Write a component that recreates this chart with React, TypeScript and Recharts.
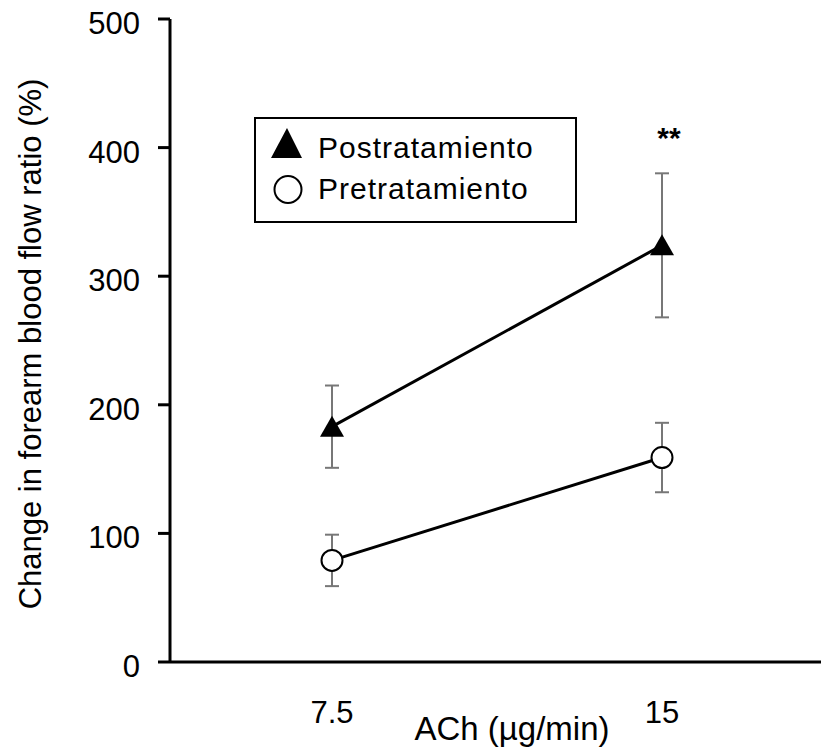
import React from "react";
import {
  ComposedChart,
  Line,
  XAxis,
  YAxis,
  ErrorBar,
  ReferenceDot,
} from "recharts";

const doses = ["7.5", "15"];
const postMean = [183, 324];
const postErr = [32, 56];
const preMean = [79, 159];
const preErr = [20, 27];
const yTicks = [0, 100, 200, 300, 400, 500];
const sigMark = { dose: "15", level: 408, text: "**" };
const seriesNames = ["Postratamiento", "Pretratamiento"];

const data = doses.map((d, i) => ({
  dose: d,
  post: postMean[i],
  postErr: postErr[i],
  pre: preMean[i],
  preErr: preErr[i],
}));

const FONT = "'Liberation Sans', Arial, Helvetica, sans-serif";

const Triangle = (props: any) => {
  const { cx, cy } = props;
  if (cx == null || cy == null) return null;
  return (
    <polygon
      points={`${cx},${cy - 11} ${cx - 12},${cy + 10} ${cx + 12},${cy + 10}`}
      fill="#000"
    />
  );
};

const Circle = (props: any) => {
  const { cx, cy } = props;
  if (cx == null || cy == null) return null;
  return <circle cx={cx} cy={cy} r={10.5} fill="#fff" stroke="#000" strokeWidth={2} />;
};

// legend drawn over the chart, like the boxed key in the figure
const LegendBox = () => (
  <div
    style={{
      position: "absolute",
      left: 254,
      top: 117,
      width: 319,
      height: 102,
      border: "2px solid #000",
      background: "#fff",
      fontFamily: FONT,
      fontSize: 30,
      letterSpacing: 1,
      color: "#000",
    }}
  >
    <svg width={60} height={100} style={{ position: "absolute", left: 0, top: 0 }}>
      <polygon points="31,9 15,39 46,39" fill="#000" />
      <circle cx={32} cy={70.5} r={13.5} fill="#fff" stroke="#000" strokeWidth={2} />
    </svg>
    <div style={{ position: "absolute", left: 62, top: 12, lineHeight: "34px" }}>{seriesNames[0]}</div>
    <div style={{ position: "absolute", left: 62, top: 53, lineHeight: "34px" }}>{seriesNames[1]}</div>
  </div>
);

export default function App() {
  return (
    <div style={{ position: "absolute", left: 0, top: 0, width: 821, height: 749, background: "#fff" }}>
      <ComposedChart
        width={821}
        height={749}
        data={data}
        margin={{ top: 19, right: 0, left: 0, bottom: 27 }}
      >
        <XAxis
          dataKey="dose"
          padding={{ left: 162, right: 159 }}
          axisLine={{ stroke: "#000", strokeWidth: 3 }}
          tickLine={false}
          tickSize={0}
          tickMargin={39}
          height={60}
          tick={{ fontSize: 31, fill: "#000", fontFamily: FONT }}
          label={{
            content: (p: any) => {
              const vb = p.viewBox;
              return (
                <text
                  x={vb.x + vb.width / 2 + 16.5}
                  y={vb.y + 66}
                  textAnchor="middle"
                  dominantBaseline="central"
                  fontSize={33}
                  fontFamily={FONT}
                  fill="#000"
                >
                  ACh (µg/min)
                </text>
              );
            },
          }}
        />
        <YAxis
          domain={[0, 500]}
          ticks={yTicks}
          width={170}
          axisLine={{ stroke: "#000", strokeWidth: 3 }}
          tickLine={{ stroke: "#000", strokeWidth: 3 }}
          tickSize={12}
          tickMargin={18}
          tick={{ fontSize: 31, fill: "#000", fontFamily: FONT, dy: 4 }}
          label={{
            content: (p: any) => {
              const vb = p.viewBox;
              const x = vb.x + 30;
              const y = vb.y + vb.height / 2 + 3.5;
              return (
                <text
                  x={x}
                  y={y}
                  transform={`rotate(-90 ${x} ${y})`}
                  textAnchor="middle"
                  dominantBaseline="central"
                  fontSize={31}
                  fontFamily={FONT}
                  fill="#000"
                >
                  Change in forearm blood flow ratio (%)
                </text>
              );
            },
          }}
        />
        <Line
          dataKey="post"
          name={seriesNames[0]}
          stroke="#000"
          strokeWidth={3}
          dot={<Triangle />}
          activeDot={false}
          isAnimationActive={false}
        >
          <ErrorBar dataKey="postErr" width={7} stroke="#777" strokeWidth={2} direction="y" />
        </Line>
        <Line
          dataKey="pre"
          name={seriesNames[1]}
          stroke="#000"
          strokeWidth={3}
          dot={<Circle />}
          activeDot={false}
          isAnimationActive={false}
        >
          <ErrorBar dataKey="preErr" width={7} stroke="#777" strokeWidth={2} direction="y" />
        </Line>
        <ReferenceDot
          x={sigMark.dose}
          y={sigMark.level}
          r={0}
          fill="none"
          stroke="none"
          label={{
            value: sigMark.text,
            position: "center",
            dx: 7,
            fontSize: 30,
            fontWeight: "bold",
            fill: "#000",
            fontFamily: FONT,
          }}
        />
      </ComposedChart>
      <LegendBox />
    </div>
  );
}
